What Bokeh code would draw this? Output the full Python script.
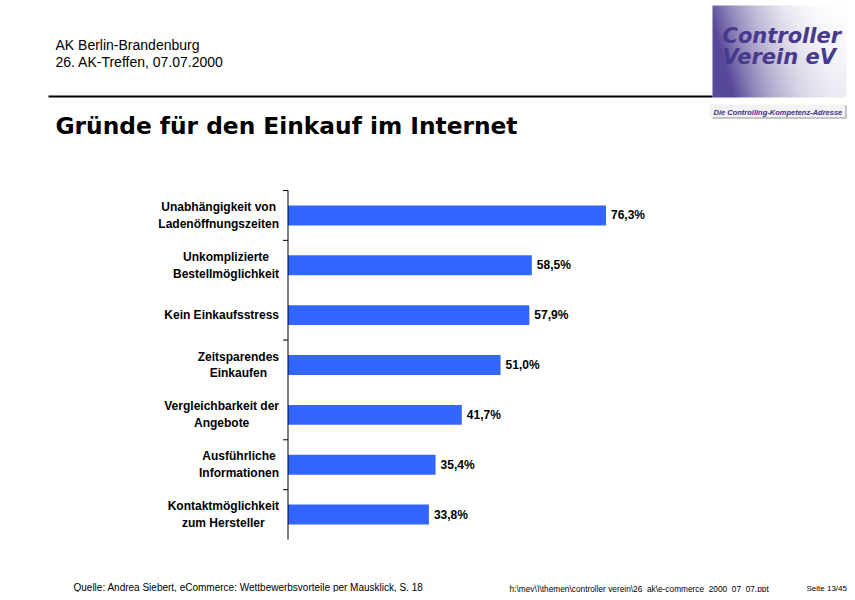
import numpy as np
from bokeh.plotting import figure
from bokeh.models import Range1d, ColumnDataSource
from bokeh.core.properties import value
from bokeh.embed import file_html
from bokeh.resources import INLINE

# ---------------- data ----------------
categories = [
    "Unabhängigkeit von\nLadenöffnungszeiten",
    "Unkomplizierte\nBestellmöglichkeit",
    "Kein Einkaufsstress",
    "Zeitsparendes\nEinkaufen",
    "Vergleichbarkeit der\nAngebote",
    "Ausführliche\nInformationen",
    "Kontaktmöglichkeit\nzum Hersteller",
]
shares = [76.3, 58.5, 57.9, 51.0, 41.7, 35.4, 33.8]
share_labels = [f"{v:.1f}".replace(".", ",") + "%" for v in shares]

header_lines = ["AK Berlin-Brandenburg", "26. AK-Treffen, 07.07.2000"]
title = "Gründe für den Einkauf im Internet"
source_note = "Quelle: Andrea Siebert, eCommerce: Wettbewerbsvorteile per Mausklick, S. 18"
file_path = "h:\\mey\\)\\themen\\controller verein\\26_ak\\e-commerce_2000_07_07.ppt"
page_note = "Seite 13/45"
logo_lines = ["Controller", "Verein eV"]
logo_tagline = "Die Controlling-Kompetenz-Adresse"

# ---------------- layout ----------------
W, H = 847, 592
AXIS_X = 287.5          # x of the value axis (0 %)
PX_PER_PCT = 4.168      # pixels per percent
CAT_TOP, CAT_BOTTOM = 190.0, 539.0
N = len(categories)
SP = (CAT_BOTTOM - CAT_TOP) / N
ARIAL = value("Liberation Sans")
DEJAVU = value("DejaVu Sans")

p = figure(width=W, height=H,
           x_range=Range1d(0, W), y_range=Range1d(H, 0),
           min_border=0, x_axis_type=None, y_axis_type=None,
           toolbar_location=None, output_backend="svg",
           outline_line_color=None, background_fill_color="white",
           border_fill_color="white")
p.extra_x_ranges = {"pct": Range1d((0 - AXIS_X) / PX_PER_PCT, (W - AXIS_X) / PX_PER_PCT)}
p.extra_y_ranges = {"cat": Range1d((H - CAT_TOP) / SP, (0 - CAT_TOP) / SP)}

src = ColumnDataSource(dict(
    cat=categories,
    y=[i + 0.5 for i in range(N)],
    share=shares,
    label=share_labels,
))

# bars
p.hbar(y="y", left=0, right="share", height=0.4, source=src,
       x_range_name="pct", y_range_name="cat",
       fill_color="#3366ff", line_color=None)

# value axis line and tick marks
p.segment(x0=[0], y0=[0], x1=[0], y1=[N], x_range_name="pct", y_range_name="cat",
          line_color="black", line_width=1)
tick_pos = [0, 1, 3, 5, 6]
p.segment(x0=[-5 / PX_PER_PCT] * len(tick_pos), y0=tick_pos,
          x1=[0] * len(tick_pos), y1=tick_pos,
          x_range_name="pct", y_range_name="cat",
          line_color="black", line_width=1)

# category labels
p.text(x=0, y="y", text="cat", source=src, x_range_name="pct", y_range_name="cat",
       x_offset=-9, anchor="center_right", text_align="center", text_baseline="middle",
       text_font=ARIAL, text_font_style="bold", text_font_size="12px",
       text_line_height=1.2, text_color="black")

# value labels
p.text(x="share", y="y", text="label", source=src, x_range_name="pct", y_range_name="cat",
       x_offset=5, text_align="left", text_baseline="middle",
       text_font=ARIAL, text_font_style="bold", text_font_size="12px", text_color="black")

# header
p.text(x=[55, 55], y=[44.5, 61], text=header_lines, text_baseline="middle",
       text_font=ARIAL, text_font_size="14px", text_color="black")
p.segment(x0=[48], y0=[96], x1=[712], y1=[96], line_color="black", line_width=2)
p.text(x=[55], y=[125], text=[title], text_baseline="middle",
       text_font=DEJAVU, text_font_style="bold", text_font_size="23.3px", text_color="black")

# footer
p.text(x=[73], y=[586.5], text=[source_note], text_baseline="middle",
       text_font=ARIAL, text_font_size="10px", text_color="black")
p.text(x=[509], y=[588], text=[file_path], text_baseline="middle",
       text_font=ARIAL, text_font_size="8.3px", text_color="black")
p.text(x=[806], y=[588], text=[page_note], text_baseline="middle",
       text_font=ARIAL, text_font_size="8px", text_color="black")

# logo (decorative gradient box)
lw, lh = 134, 92
U, V = np.meshgrid(np.linspace(0, 1, lw), np.linspace(0, 1, lh))
t = np.clip(0.9 * (1 - U) ** 2.5 + 0.4 * V * (1 - U) ** 1.5 + 0.1 * V, 0, 1)
purple = np.array([88, 72, 152])
rgb = 255 * (1 - t[..., None]) + purple * t[..., None]
img = np.empty((lh, lw), dtype=np.uint32)
view = img.view(dtype=np.uint8).reshape((lh, lw, 4))
view[..., :3] = rgb.astype(np.uint8)
view[..., 3] = 255
p.image_rgba(image=[img], x=712, y=5, dw=lw, dh=lh)

p.text(x=[722, 722], y=[35, 56.5], text=logo_lines, text_baseline="middle",
       text_font=DEJAVU, text_font_style="bold italic", text_font_size="21px",
       text_color="#47398c")
p.quad(left=[709], right=[846], top=[104], bottom=[118], fill_color="#f3f3f3", line_color=None)
p.segment(x0=[712, 845.5], y0=[117.5, 105], x1=[845.5, 845.5], y1=[117.5, 117.5],
          line_color="#b5b5b5", line_width=1.5)
p.text(x=[713], y=[111.5], text=[logo_tagline], text_baseline="middle",
       text_font=ARIAL, text_font_style="bold italic", text_font_size="7.5px",
       text_color="#3c3488")

open("out.html", "w").write(file_html(p, INLINE))
